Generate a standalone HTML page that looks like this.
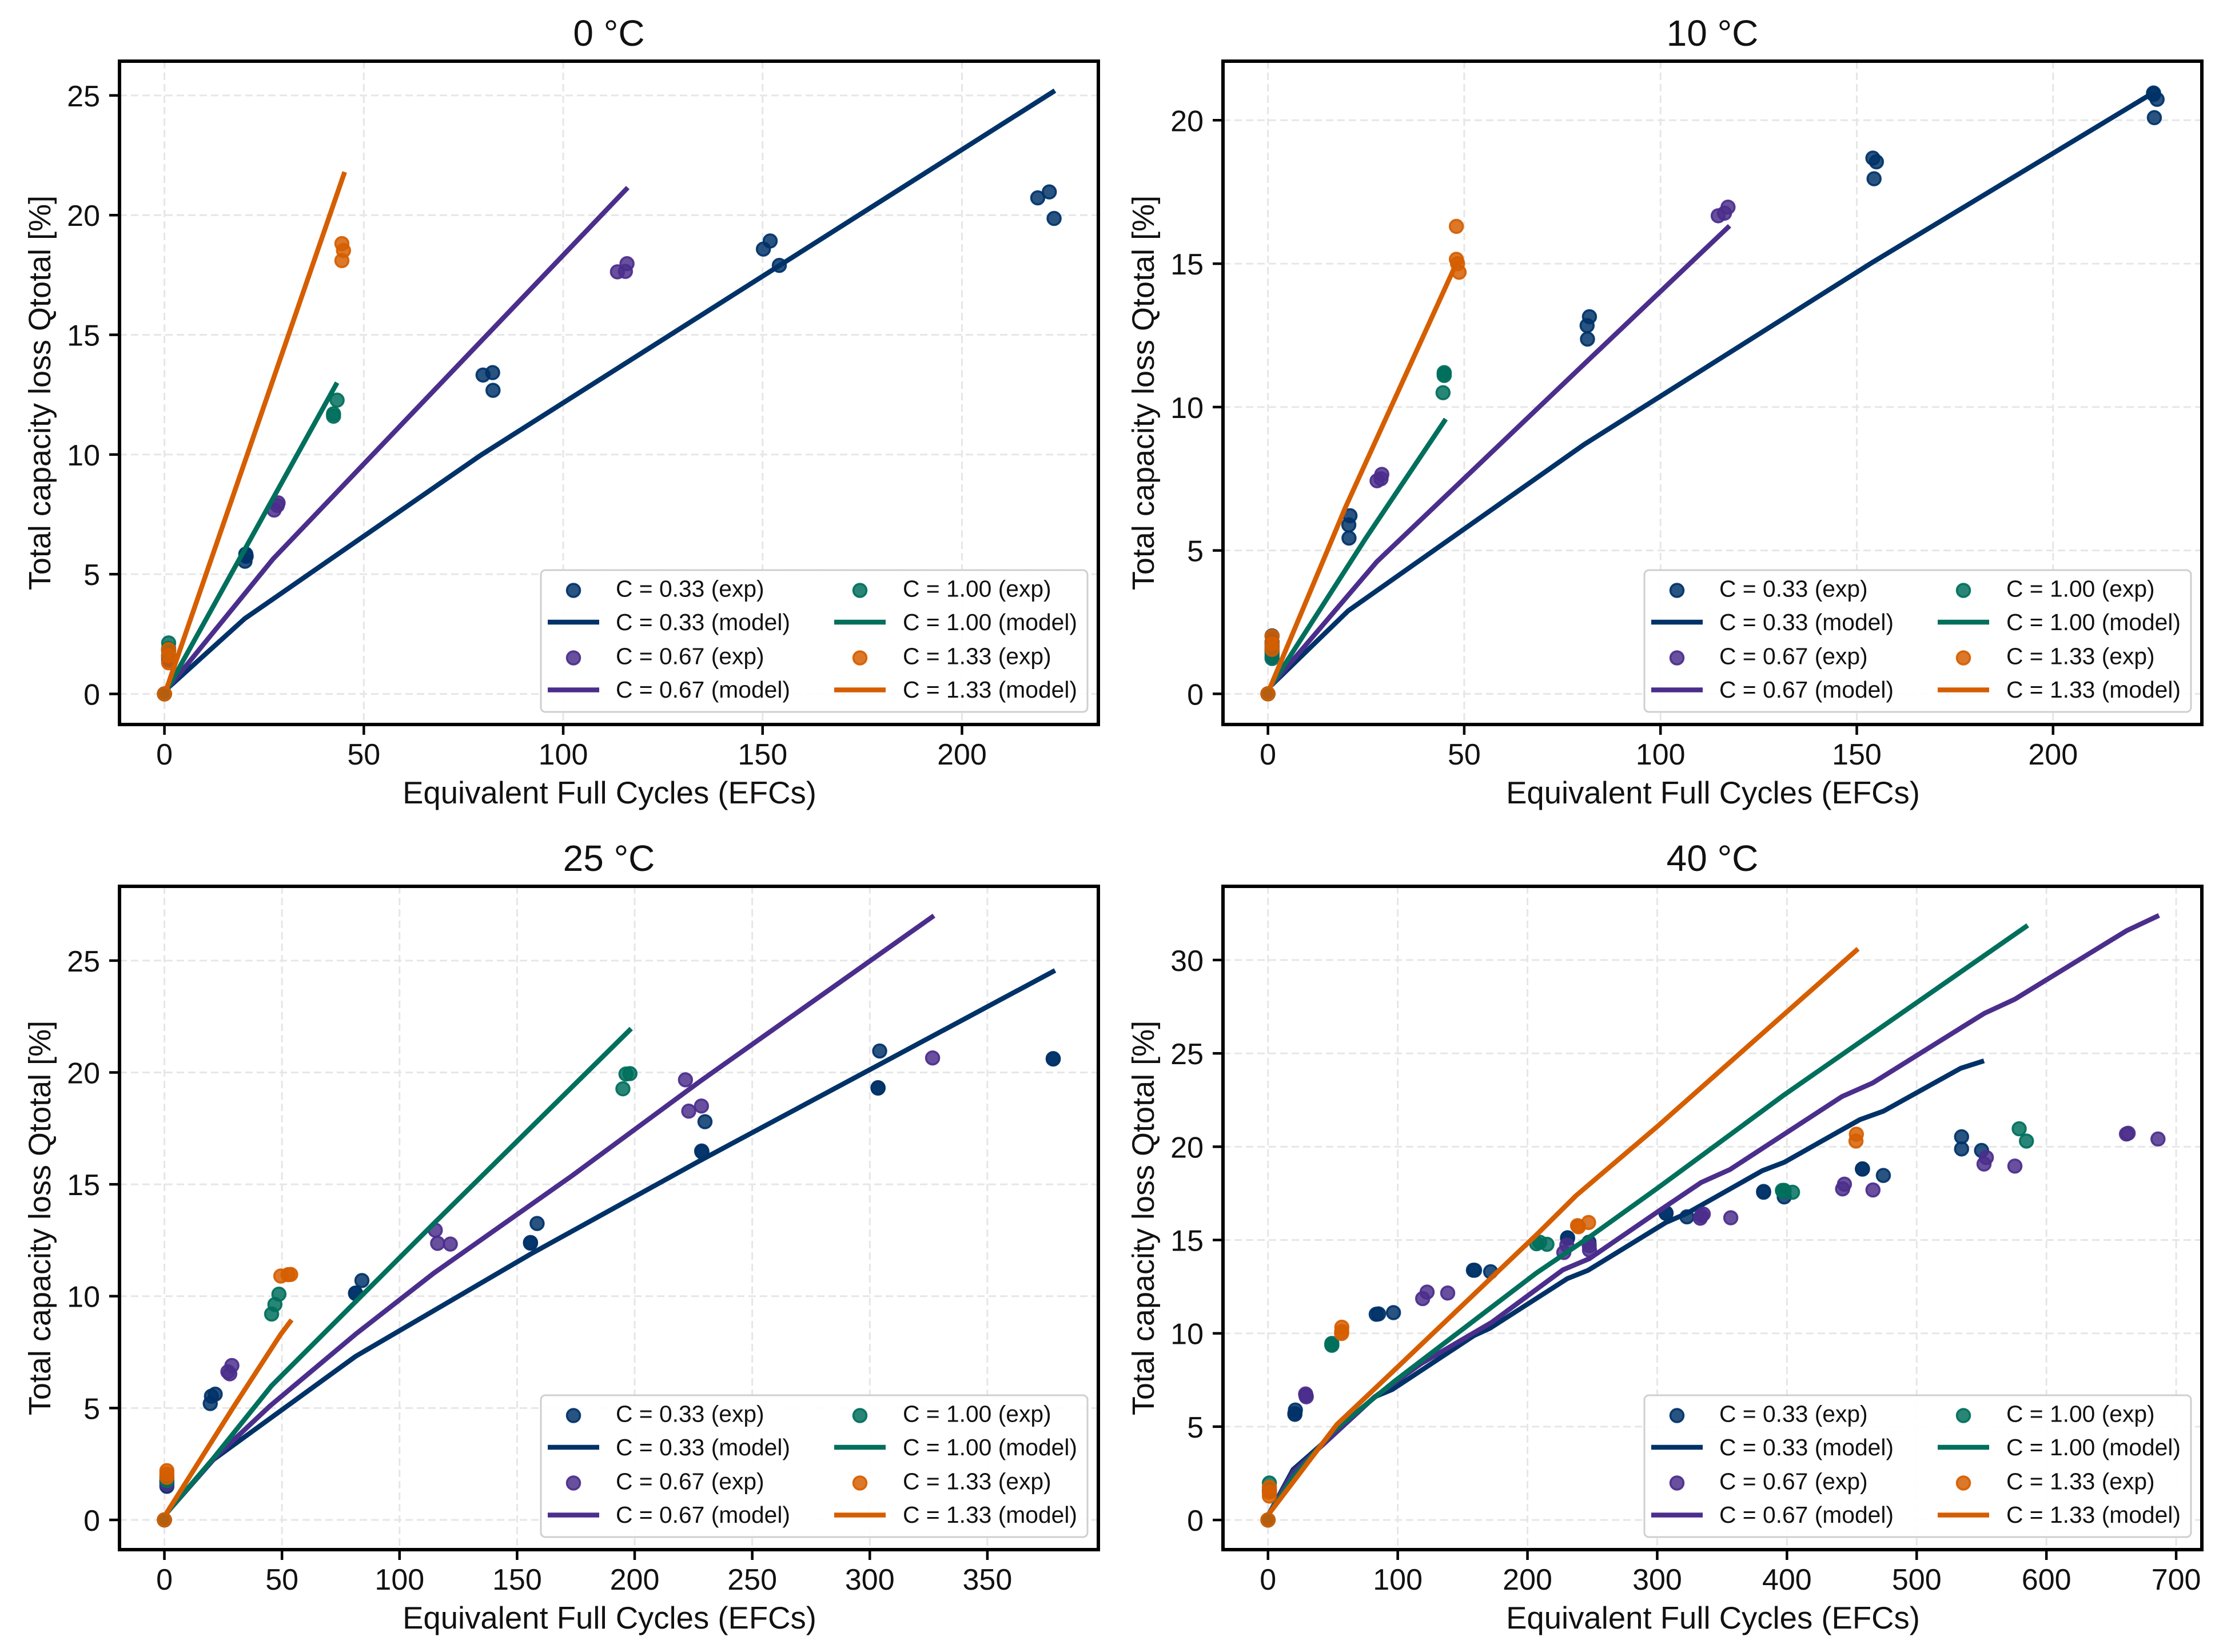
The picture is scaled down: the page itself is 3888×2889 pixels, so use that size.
<!DOCTYPE html>
<html lang="en">
<head>
<meta charset="utf-8">
<title>Total capacity loss vs equivalent full cycles</title>
<style>
html,body{margin:0;padding:0;background:#fff;}
svg{display:block;}
text{font-family:"Liberation Sans",Arial,sans-serif;fill:#111;}
</style>
</head>
<body>
<svg id="chart" xmlns="http://www.w3.org/2000/svg" width="3888" height="2889" viewBox="0 0 3888 2889"></svg>
<script>
const temperatures = ['0 °C', '10 °C', '25 °C', '40 °C'];
const rates = ['0.33', '0.67', '1.00', '1.33'];

const xTicks0 = [0, 50, 100, 150, 200];
const xTicks1 = [0, 50, 100, 150, 200];
const xTicks2 = [0, 50, 100, 150, 200, 250, 300, 350];
const xTicks3 = [0, 100, 200, 300, 400, 500, 600, 700];
const yTicks0 = [0, 5, 10, 15, 20, 25];
const yTicks1 = [0, 5, 10, 15, 20];
const yTicks2 = [0, 5, 10, 15, 20, 25];
const yTicks3 = [0, 5, 10, 15, 20, 25, 30];

const xLimits0 = [-11.27, 234.2];
const xLimits1 = [-11.45, 237.9];
const xLimits2 = [-19.1, 397.2];
const xLimits3 = [-34.7, 719.8];
const yLimits0 = [-1.278, 26.43];
const yLimits1 = [-1.07, 22.06];
const yLimits2 = [-1.33, 28.32];
const yLimits3 = [-1.59, 33.95];

/* 0 °C */
const exp0C033 = [[0,0],[1.05,1.85],[1.05,1.6],[1.05,1.5],[20.4,5.84],[20.2,5.54],[20.5,5.75],[79.9,13.32],[82.3,13.42],[82.4,12.68],[150.2,18.58],[151.9,18.92],[154.2,17.9],[219,20.72],[221.9,20.97],[223.1,19.86]];
const exp0C067 = [[0,0],[1.05,1.8],[1.05,1.6],[1.05,1.4],[28.5,7.98],[28.3,7.87],[27.5,7.68],[113.6,17.63],[115.6,17.65],[116,17.97]];
const exp0C100 = [[0,0],[1.05,2.13],[1.05,1.9],[1.05,1.6],[43.3,12.27],[42.4,11.7],[42.4,11.6]];
const exp0C133 = [[0,0],[1.05,1.85],[1.05,1.6],[1.05,1.3],[44.5,18.81],[44.9,18.52],[44.5,18.1]];
const model0C033 = [[0.9,0.25],[20.1,3.14],[79.3,9.97],[223.3,25.2]];
const model0C067 = [[0.9,0.25],[27.2,5.63],[116.2,21.15]];
const model0C100 = [[0.9,0.25],[43.3,13.0]];
const model0C133 = [[0.5,0.2],[45.2,21.8]];

/* 10 °C */
const exp10C033 = [[0,0],[1.05,2.02],[1.05,1.8],[1.05,1.5],[20.9,6.21],[20.6,5.89],[20.65,5.43],[81.9,13.15],[81.3,12.84],[81.4,12.37],[154.1,18.68],[155,18.55],[154.4,17.96],[225.6,20.95],[225.6,20.9],[226.5,20.73],[225.8,20.09]];
const exp10C067 = [[0,0],[1.05,1.7],[1.05,1.5],[1.05,1.3],[29,7.65],[28.8,7.5],[27.8,7.43],[114.7,16.67],[116.3,16.76],[117.2,16.97]];
const exp10C100 = [[0,0],[1.05,1.6],[1.05,1.4],[1.05,1.23],[44.9,11.2],[44.9,11.15],[44.9,11.1],[44.6,10.5]];
const exp10C133 = [[0,0],[1.05,2.0],[1.05,1.75],[1.05,1.55],[48,16.3],[48,15.15],[48.3,15.0],[48.7,14.7]];
const model10C033 = [[0.9,0.3],[20.4,2.89],[80.5,8.69],[153.8,15.03],[225.4,20.95]];
const model10C067 = [[0.9,0.3],[27.7,4.6],[81.7,11.65],[117.6,16.32]];
const model10C100 = [[0.9,0.3],[24.8,5.4],[45.3,9.58]];
const model10C133 = [[0.5,0.2],[19.7,6.49],[48.3,15.1]];

/* 25 °C */
const exp25C033 = [[0,0],[1.05,1.5],[1.05,1.7],[19.5,5.2],[20,5.53],[21.6,5.62],[81.3,10.12],[81.3,10.14],[84,10.7],[155.7,12.37],[155.7,12.4],[158.5,13.25],[228.5,16.49],[228.6,16.45],[229.9,17.8],[304.2,20.96],[303.5,19.3],[303.5,19.32],[378,20.6],[378,20.62]];
const exp25C067 = [[0,0],[1.05,1.6],[1.05,1.75],[27,6.62],[27.8,6.53],[28.7,6.9],[115.2,12.95],[116.2,12.36],[121.6,12.33],[221.6,19.67],[223,18.27],[228.4,18.5],[326.7,20.65]];
const exp25C100 = [[0,0],[1.05,1.75],[1.05,1.9],[45.6,9.2],[47,9.63],[48.7,10.09],[195,19.27],[196.3,19.93],[198,19.95]];
const exp25C133 = [[0,0],[1.05,1.9],[1.05,2.05],[1.05,2.2],[49.5,10.9],[52.6,10.96],[53.7,10.97]];
const model25C033 = [[0.9,0.3],[20.8,2.69],[81.3,7.31],[155.7,11.88],[228.5,16.1],[378.8,24.56]];
const model25C067 = [[0.9,0.3],[20.8,2.72],[45,5.1],[81.3,8.3],[114.6,11.03],[173.3,15.38],[228,19.62],[327.3,27.01]];
const model25C100 = [[0.9,0.3],[20.8,2.75],[45.6,6],[114.6,13.25],[198.5,21.96]];
const model25C133 = [[0.9,0.3],[29.3,5.03],[49.5,8.3],[54.1,8.94]];

/* 40 °C */
const exp40C033 = [[0,0],[1.05,1.6],[21.1,5.89],[20.7,5.66],[20.7,5.7],[83.4,11.02],[85.2,11.04],[96.7,11.11],[158.3,13.38],[159.2,13.38],[171.6,13.3],[230.9,15.12],[230.9,15.1],[247.4,14.88],[306.8,16.43],[306.8,16.45],[322.9,16.24],[382,17.6],[382,17.56],[397.9,17.31],[458.2,18.81],[458.2,18.8],[474.3,18.46],[534.6,20.53],[534.6,19.88],[550,19.8]];
const exp40C067 = [[0,0],[1.05,1.5],[29,6.75],[29.5,6.6],[29.2,6.68],[122.6,12.21],[119.2,11.86],[138.5,12.16],[230.3,14.73],[228,14.33],[247.8,14.46],[247.6,14.7],[333.2,16.17],[335.5,16.39],[334,16.3],[356.7,16.19],[442.9,17.74],[444.3,17.99],[466.3,17.68],[551.9,19.07],[553.7,19.42],[575.7,18.96],[661.7,20.68],[663,20.72],[686,20.41]];
const exp40C100 = [[0,0],[1.05,1.98],[1.05,1.6],[49.2,9.46],[49.2,9.36],[49.2,9.4],[207,14.8],[209.4,14.88],[215,14.77],[396.5,17.66],[397.9,17.66],[396.9,17.6],[404.3,17.56],[579,20.96],[584.6,20.3]];
const exp40C133 = [[0,0],[1.05,1.75],[1.05,1.5],[1.05,1.28],[56.9,10.33],[56.7,9.99],[56.8,10.1],[238.6,15.77],[239.3,15.71],[247.1,15.94],[453.5,20.67],[453.2,20.3]];
const model40C033 = [[0.9,0.35],[19.3,2.7],[39.6,3.94],[82.3,6.6],[95.8,6.99],[158.8,9.88],[171,10.27],[230.7,12.93],[246.5,13.37],[306.8,15.94],[322.9,16.43],[381.2,18.72],[397.8,19.16],[456.2,21.45],[474.3,21.9],[533.9,24.2],[551.9,24.6]];
const model40C067 = [[0.9,0.35],[19.3,2.55],[39.6,3.86],[82.3,6.6],[118.3,8.39],[172.2,10.58],[227.3,13.4],[247.6,14],[300.7,16.53],[334,18.09],[356.2,18.78],[442.3,22.68],[466,23.41],[552,27.14],[575.6,27.9],[661.7,31.57],[686.8,32.39]];
const model40C100 = [[0.9,0.35],[19.3,2.3],[49.7,4.72],[98,7.46],[207,13.24],[246.5,15.1],[300.7,17.8],[397.9,22.78],[585.6,31.86]];
const model40C133 = [[0.9,0.35],[53,5.11],[94.7,7.85],[208,15.35],[237.5,17.38],[300.7,21.12],[454.8,30.6]];

const xTickSets = [xTicks0, xTicks1, xTicks2, xTicks3];
const yTickSets = [yTicks0, yTicks1, yTicks2, yTicks3];
const xLimitSets = [xLimits0, xLimits1, xLimits2, xLimits3];
const yLimitSets = [yLimits0, yLimits1, yLimits2, yLimits3];
const expSets = [
  [exp0C033, exp0C067, exp0C100, exp0C133],
  [exp10C033, exp10C067, exp10C100, exp10C133],
  [exp25C033, exp25C067, exp25C100, exp25C133],
  [exp40C033, exp40C067, exp40C100, exp40C133]
];
const modelSets = [
  [model0C033, model0C067, model0C100, model0C133],
  [model10C033, model10C067, model10C100, model10C133],
  [model25C033, model25C067, model25C100, model25C133],
  [model40C033, model40C067, model40C100, model40C133]
];

const NS = 'http://www.w3.org/2000/svg';
const root = document.getElementById('chart');
const colours = ['#003268', '#4b2e8c', '#006f5c', '#d55e00'];
const left = [209, 2139, 209, 2139];
const topEdge = [107, 107, 1550, 1550];
const boxW = 1712;
const boxH = 1160;
const modelWidth = 8.5;

function make(tag, attrs, parent, txt) {
  const node = document.createElementNS(NS, tag);
  Object.keys(attrs).forEach(function (k) { node.setAttribute(k, attrs[k]); });
  if (txt !== undefined) node.textContent = txt;
  parent.appendChild(node);
  return node;
}
function slug(v) { return String(v).replace(/[^0-9a-zA-Z]+/g, '-').replace(/^-|-$/g, ''); }

function drawPanel(p) {
  const L = left[p], T = topEdge[p], R = L + boxW, B = T + boxH;
  const xl = xLimitSets[p], yl = yLimitSets[p];
  const xs = function (v) { return L + (v - xl[0]) / (xl[1] - xl[0]) * boxW; };
  const ys = function (v) { return B - (v - yl[0]) / (yl[1] - yl[0]) * boxH; };
  const tag = slug(temperatures[p]);

  const g = make('g', {}, root);
  
  

  const bg = make('rect', {x: L, y: T, width: boxW, height: boxH, fill: '#fff'}, g);
  
  

  xTickSets[p].forEach(function (v) {
    const gl = make('line', {x1: xs(v), x2: xs(v), y1: T, y2: B, stroke: '#e6e6e6', 'stroke-width': 3, 'stroke-dasharray': '13 7'}, g);
    
    
    const tk = make('line', {x1: xs(v), x2: xs(v), y1: B, y2: B + 18, stroke: '#000', 'stroke-width': 4.5}, g);
    
    
    const lb = make('text', {x: xs(v), y: B + 70, 'font-size': 52, 'text-anchor': 'middle'}, g, String(v));
    
    
  });
  yTickSets[p].forEach(function (v) {
    const gl = make('line', {x1: L, x2: R, y1: ys(v), y2: ys(v), stroke: '#e6e6e6', 'stroke-width': 3, 'stroke-dasharray': '13 7'}, g);
    
    
    const tk = make('line', {x1: L - 18, x2: L, y1: ys(v), y2: ys(v), stroke: '#000', 'stroke-width': 4.5}, g);
    
    
    const lb = make('text', {x: L - 34, y: ys(v) + 19, 'font-size': 52, 'text-anchor': 'end'}, g, String(v));
    
    
  });

  rates.forEach(function (rate, r) {
    const pts = modelSets[p][r].map(function (d) { return xs(d[0]).toFixed(1) + ',' + ys(d[1]).toFixed(1); }).join(' ');
    const line = make('polyline', {points: pts, fill: 'none', stroke: colours[r], 'stroke-width': modelWidth, 'stroke-linejoin': 'round'}, g);
    
    
    expSets[p][r].forEach(function (d) {
      const dot = make('circle', {cx: xs(d[0]), cy: ys(d[1]), r: 11.5, fill: colours[r], 'fill-opacity': 0.84, stroke: colours[r], 'stroke-opacity': 0.92, 'stroke-width': 3.5}, g);
      
      
    });
  });

  const spine = make('rect', {x: L, y: T, width: boxW, height: boxH, fill: 'none', stroke: '#000', 'stroke-width': 6}, g);
  
  

  const title = make('text', {x: L + boxW / 2, y: T - 27, 'font-size': 64, 'text-anchor': 'middle'}, g, temperatures[p]);
  
  

  const xt = make('text', {x: L + boxW / 2 + 1, y: B + 138, 'font-size': 54.5, 'text-anchor': 'middle'}, g, 'Equivalent Full Cycles (EFCs)');
  
  

  const yx = L - 121, yy = T + boxH / 2;
  const yt = make('text', {x: yx, y: yy, 'font-size': 54, 'text-anchor': 'middle', transform: 'rotate(-90 ' + yx + ' ' + yy + ')'}, g, 'Total capacity loss Qtotal [%]');
  
  

  /* legend */
  const lg = make('g', {}, g);
  
  
  const lx = L + 737, ly = T + 890;
  const frame = make('rect', {x: lx, y: ly, width: 956, height: 248, rx: 8, ry: 8, fill: '#fff', 'fill-opacity': 0.9, stroke: '#cfcfcf', 'stroke-width': 3}, lg);
  
  
  const colX = [lx + 12, lx + 513];
  const textX = [lx + 131, lx + 633];
  const markerRows = [35.5, 153.5];
  const lineRows = [91, 209.5];
  const textRows = [46.5, 105, 164.5, 223];
  rates.forEach(function (rate, r) {
    const col = r < 2 ? 0 : 1;
    const block = r % 2;
    const m = make('circle', {cx: colX[col] + 45, cy: ly + markerRows[block], r: 11.5, fill: colours[r], 'fill-opacity': 0.84, stroke: colours[r], 'stroke-opacity': 0.92, 'stroke-width': 3.5}, lg);
    
    
    const t1 = make('text', {x: textX[col], y: ly + textRows[block * 2], 'font-size': 40.8}, lg, 'C = ' + rate + ' (exp)');
    
    
    const ln = make('line', {x1: colX[col], x2: colX[col] + 90, y1: ly + lineRows[block], y2: ly + lineRows[block], stroke: colours[r], 'stroke-width': modelWidth}, lg);
    
    
    const t2 = make('text', {x: textX[col], y: ly + textRows[block * 2 + 1], 'font-size': 40.8}, lg, 'C = ' + rate + ' (model)');
    
    
  });
}

temperatures.forEach(function (_, p) { drawPanel(p); });
</script>
</body>
</html>
